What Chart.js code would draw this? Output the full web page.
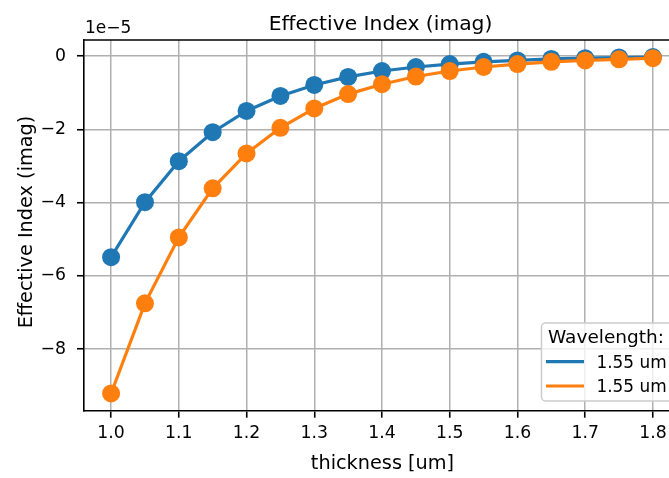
<!DOCTYPE html>
<html>
<head>
<meta charset="utf-8"/>
<style>
  html,body{margin:0;padding:0;background:#fff;overflow:hidden;}
  #wrap{width:689px;height:478px;}
</style>
</head>
<body>
<div id="wrap"><canvas id="c" width="689" height="478"></canvas></div>
<script src="https://cdn.jsdelivr.net/npm/chart.js@4.4.0/dist/chart.umd.min.js"></script>
<script>
// thickness sweep [um]
const thickness = [1.00, 1.05, 1.10, 1.15, 1.20, 1.25, 1.30, 1.35, 1.40, 1.45, 1.50, 1.55, 1.60, 1.65, 1.70, 1.75, 1.80];
// imaginary part of the effective index, in units of 1e-5
const imagA = [-5.49, -3.99, -2.87, -2.08, -1.50, -1.09, -0.79, -0.57, -0.41, -0.30, -0.22, -0.16, -0.12, -0.08, -0.06, -0.04, -0.03];
const imagB = [-9.21, -6.75, -4.95, -3.61, -2.66, -1.96, -1.43, -1.04, -0.77, -0.56, -0.41, -0.30, -0.22, -0.16, -0.12, -0.09, -0.06];
const seriesLabels = ["1.55 um", "1.55 um"];
const seriesColors = ["#1f77b4", "#ff7f0e"];
const legendTitle = "Wavelength:";
const yTicks = [0, -2, -4, -6, -8];
const xTicks = [1.0, 1.1, 1.2, 1.3, 1.4, 1.5, 1.6, 1.7, 1.8];

const FONT = "'DejaVu Sans', sans-serif";
const pts = ys => thickness.map((x, i) => ({ x, y: ys[i] }));

// later series are painted on top, like matplotlib
const mkSet = (ys, i) => ({
  label: seriesLabels[i],
  data: pts(ys),
  order: -i,
  borderColor: seriesColors[i],
  backgroundColor: seriesColors[i],
  borderWidth: 3.2,
  pointRadius: 9,
  pointHoverRadius: 9,
  pointBorderWidth: 0,
  tension: 0,
  clip: false,
});

// title, axis labels, offset text, top spine and legend
const decor = {
  id: "decor",
  afterDraw(chart) {
    const { ctx, chartArea: a } = chart;
    ctx.save();
    ctx.strokeStyle = "#000";
    ctx.lineWidth = 1.6;
    ctx.beginPath();
    ctx.moveTo(a.left - 0.8, a.top);
    ctx.lineTo(a.right, a.top);
    ctx.stroke();

    ctx.fillStyle = "#000";
    ctx.textBaseline = "alphabetic";
    ctx.textAlign = "center";
    ctx.font = "20.3px " + FONT;
    ctx.fillText("Effective Index (imag)", 380.5, 30);

    ctx.font = "19.3px " + FONT;
    ctx.fillText("thickness [um]", 382.5, 469);

    ctx.save();
    ctx.translate(32, 222);
    ctx.rotate(-Math.PI / 2);
    ctx.fillText("Effective Index (imag)", 0, 0);
    ctx.restore();

    ctx.textAlign = "left";
    ctx.font = "17px " + FONT;
    ctx.fillText("1e\u22125", a.left + 1, 33);

    // legend box
    const bx = 541.5, by = 323, bw = 134, bh = 78, r = 4;
    ctx.beginPath();
    ctx.roundRect(bx, by, bw, bh, r);
    ctx.fillStyle = "rgba(255,255,255,0.8)";
    ctx.fill();
    ctx.strokeStyle = "#cccccc";
    ctx.lineWidth = 1.5;
    ctx.stroke();

    ctx.fillStyle = "#000";
    ctx.font = "18.5px " + FONT;
    ctx.fillText(legendTitle, 548, 343);
    ctx.font = "16.9px " + FONT;
    chart.data.datasets.forEach((ds, i) => {
      const ly = 361.7 + i * 24.3;
      ctx.strokeStyle = ds.borderColor;
      ctx.lineWidth = 3.2;
      ctx.beginPath();
      ctx.moveTo(546, ly);
      ctx.lineTo(584, ly);
      ctx.stroke();
      ctx.fillStyle = "#000";
      ctx.fillText(ds.label, 596.5, ly + 6);
    });
    ctx.restore();
  }
};

new Chart(document.getElementById("c"), {
  type: "line",
  data: { datasets: [mkSet(imagA, 0), mkSet(imagB, 1)] },
  options: {
    responsive: false,
    animation: false,
    devicePixelRatio: 1,
    layout: { padding: { top: 40, right: 4, left: 0, bottom: 0 } },
    plugins: { legend: { display: false }, title: { display: false }, tooltip: { enabled: false } },
    scales: {
      x: {
        type: "linear",
        min: 0.96,
        max: 1.84,
        afterFit: s => { s.height = 478 - 410.7; s.paddingLeft = 0; s.paddingRight = 0; },
        afterBuildTicks: s => { s.ticks = xTicks.map(v => ({ value: v })); },
        ticks: {
          color: "#000",
          font: { family: FONT, size: 17.3 },
          padding: 5,
          maxRotation: 0,
          callback: v => Number(v).toFixed(1),
        },
        grid: { color: "#b0b0b0", lineWidth: 1.5, tickColor: "#000", tickLength: 7, tickWidth: 1.6 },
        border: { display: true, color: "#000", width: 1.6 },
      },
      y: {
        type: "linear",
        min: -9.68,
        max: 0.437,
        afterFit: s => { s.width = 84; s.paddingTop = 0; s.paddingBottom = 0; },
        afterBuildTicks: s => { s.ticks = yTicks.map(v => ({ value: v })); },
        ticks: {
          color: "#000",
          font: { family: FONT, size: 17.3 },
          padding: 11,
          callback: v => (v === 0 ? "0" : "\u2212" + Math.abs(v)),
        },
        grid: { color: "#b0b0b0", lineWidth: 1.5, tickColor: "#000", tickLength: 7, tickWidth: 1.6 },
        border: { display: true, color: "#000", width: 1.6 },
      },
    },
  },
  plugins: [decor],
});
</script>
</body>
</html>
